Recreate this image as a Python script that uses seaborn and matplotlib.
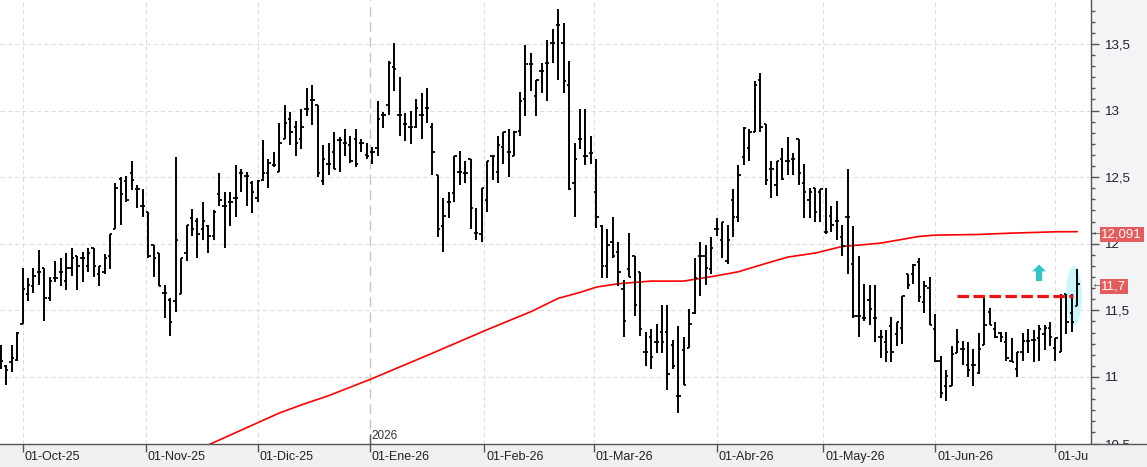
import numpy as np
import pandas as pd
import matplotlib
matplotlib.use('Agg')
import matplotlib.pyplot as plt
from matplotlib.patches import Ellipse
from matplotlib.ticker import MultipleLocator, FuncFormatter
from matplotlib.transforms import Bbox, TransformedBbox, blended_transform_factory
import seaborn as sns

# barras diarias (25-sep-2025 .. 07-jul-2026)
highs = [11.24, 11.09, 11.24, 11.34, 11.82, 11.74, 11.82, 11.95, 11.82, 11.75,
         11.87, 11.89, 11.93, 11.97, 11.91, 11.94, 11.97, 11.97, 11.83, 11.92,
         12.07, 12.46, 12.50, 12.51, 12.62, 12.44, 12.41, 12.24, 11.99, 11.93,
         11.69, 11.59, 12.65, 11.89, 12.14, 12.26, 12.19, 12.31, 12.14, 12.25,
         12.53, 12.39, 12.39, 12.59, 12.56, 12.54, 12.47, 12.48, 12.78, 12.64,
         12.69, 12.91, 13.04, 12.99, 12.92, 13.01, 13.17, 13.19, 13.04, 12.74,
         12.76, 12.84, 12.80, 12.86, 12.81, 12.86, 12.79, 12.76, 12.73, 13.07,
         12.99, 13.37, 13.51, 13.25, 12.98, 13.00, 13.09, 13.13, 13.17, 12.91,
         12.52, 12.34, 12.39, 12.66, 12.70, 12.62, 12.64, 12.27, 12.42, 12.62,
         12.66, 12.81, 12.84, 12.86, 12.85, 13.14, 13.49, 13.43, 13.23, 13.36,
         13.53, 13.61, 13.76, 13.66, 13.37, 12.76, 13.01, 13.01, 12.81, 12.64,
         12.14, 12.11, 12.20, 12.01, 11.73, 12.08, 11.91, 11.79, 11.34, 11.36,
         11.40, 11.54, 11.54, 11.28, 11.38, 11.30, 11.51, 11.89, 12.01, 11.99,
         12.05, 12.19, 12.16, 12.14, 12.41, 12.59, 12.88, 12.86, 13.22, 13.28,
         12.90, 12.62, 12.62, 12.72, 12.80, 12.68, 12.79, 12.60, 12.42, 12.42,
         12.41, 12.42, 12.28, 12.32, 12.14, 12.56, 12.13, 11.91, 11.70, 11.69,
         11.69, 11.35, 11.35, 11.45, 11.41, 11.61, 11.77, 11.85, 11.89, 11.72,
         11.75, 11.47, 11.16, 11.05, 11.23, 11.36, 11.27, 11.26, 11.21, 11.33,
         11.61, 11.52, 11.41, 11.34, 11.34, 11.29, 11.19, 11.33, 11.36, 11.35,
         11.39, 11.39, 11.41, 11.29, 11.62, 11.62, 11.62, 11.81]
lows = [11.06, 10.94, 11.04, 11.12, 11.40, 11.57, 11.63, 11.69, 11.42, 11.57,
        11.71, 11.68, 11.65, 11.76, 11.65, 11.71, 11.79, 11.75, 11.68, 11.77,
        11.81, 12.11, 12.14, 12.31, 12.40, 12.27, 12.20, 11.89, 11.75, 11.68,
        11.44, 11.31, 11.49, 11.62, 11.87, 12.06, 11.89, 12.03, 11.93, 12.03,
        12.28, 11.97, 12.13, 12.20, 12.39, 12.28, 12.23, 12.31, 12.47, 12.42,
        12.58, 12.54, 12.79, 12.74, 12.66, 12.71, 12.96, 12.89, 12.50, 12.44,
        12.52, 12.56, 12.54, 12.66, 12.61, 12.58, 12.69, 12.64, 12.60, 12.66,
        12.87, 12.97, 13.15, 12.81, 12.77, 12.75, 12.87, 12.79, 12.91, 12.52,
        12.05, 11.94, 12.19, 12.31, 12.44, 12.46, 12.11, 12.03, 12.01, 12.24,
        12.48, 12.46, 12.60, 12.50, 12.66, 12.81, 12.96, 13.15, 12.96, 13.13,
        13.07, 13.36, 13.23, 13.13, 12.40, 12.20, 12.71, 12.59, 12.60, 12.12,
        11.74, 11.74, 11.89, 11.68, 11.30, 11.75, 11.46, 11.31, 11.08, 11.06,
        11.18, 11.18, 10.90, 11.06, 10.73, 10.94, 11.22, 11.47, 11.61, 11.69,
        11.77, 12.06, 11.89, 11.85, 12.05, 12.16, 12.59, 12.62, 12.84, 12.84,
        12.44, 12.34, 12.36, 12.48, 12.52, 12.52, 12.44, 12.19, 12.19, 12.16,
        12.16, 12.07, 12.09, 12.03, 11.91, 11.77, 11.44, 11.30, 11.42, 11.39,
        11.26, 11.14, 11.11, 11.11, 11.23, 11.25, 11.66, 11.70, 11.56, 11.48,
        11.39, 11.11, 10.84, 10.82, 10.93, 11.18, 11.09, 11.00, 10.93, 11.02,
        11.24, 11.39, 11.29, 11.26, 11.12, 11.11, 11.00, 11.12, 11.18, 11.11,
        11.12, 11.20, 11.23, 11.12, 11.19, 11.32, 11.34, 11.53]
opens = [11.21, 11.08, 11.11, 11.13, 11.40, 11.62, 11.68, 11.79, 11.82, 11.59,
         11.74, 11.79, 11.72, 11.82, 11.91, 11.89, 11.83, 11.97, 11.77, 11.79,
         11.91, 12.11, 12.49, 12.47, 12.53, 12.41, 12.28, 12.24, 11.99, 11.93,
         11.63, 11.58, 11.57, 11.62, 11.93, 12.19, 12.17, 12.11, 12.13, 12.06,
         12.37, 12.28, 12.31, 12.34, 12.53, 12.51, 12.46, 12.34, 12.48, 12.53,
         12.59, 12.54, 12.79, 12.94, 12.88, 12.79, 13.01, 13.08, 13.04, 12.47,
         12.60, 12.69, 12.78, 12.76, 12.74, 12.79, 12.76, 12.67, 12.69, 12.72,
         12.97, 13.04, 13.33, 12.97, 12.90, 12.88, 12.88, 12.97, 13.02, 12.88,
         12.52, 12.13, 12.31, 12.38, 12.54, 12.53, 12.64, 12.08, 12.07, 12.33,
         12.66, 12.54, 12.73, 12.69, 12.66, 12.85, 13.09, 13.35, 13.11, 13.30,
         13.36, 13.51, 13.64, 13.51, 13.19, 12.46, 12.79, 12.66, 12.68, 12.39,
         12.13, 11.83, 12.01, 11.94, 11.66, 11.81, 11.91, 11.79, 11.19, 11.30,
         11.26, 11.34, 11.34, 11.24, 10.86, 11.20, 11.22, 11.48, 11.91, 11.91,
         11.81, 12.11, 12.03, 11.87, 12.33, 12.20, 12.65, 12.72, 12.84, 13.23,
         12.90, 12.56, 12.44, 12.64, 12.62, 12.64, 12.79, 12.46, 12.33, 12.42,
         12.39, 12.09, 12.21, 12.17, 12.05, 12.20, 11.85, 11.46, 11.44, 11.58,
         11.44, 11.30, 11.26, 11.38, 11.32, 11.37, 11.77, 11.77, 11.86, 11.56,
         11.67, 11.36, 11.12, 10.93, 10.93, 11.18, 11.21, 11.09, 11.09, 11.03,
         11.24, 11.49, 11.36, 11.33, 11.26, 11.12, 11.06, 11.19, 11.27, 11.28,
         11.29, 11.32, 11.37, 11.22, 11.19, 11.62, 11.48, 11.53]
closes = [11.12, 11.05, 11.14, 11.33, 11.66, 11.69, 11.76, 11.79, 11.59, 11.72,
          11.74, 11.79, 11.82, 11.89, 11.83, 11.89, 11.93, 11.83, 11.83, 11.89,
          12.07, 12.42, 12.37, 12.33, 12.48, 12.41, 12.28, 11.91, 11.89, 11.68,
          11.63, 11.41, 12.03, 11.89, 12.14, 12.11, 12.07, 12.17, 12.06, 12.24,
          12.33, 12.28, 12.31, 12.34, 12.53, 12.51, 12.39, 12.47, 12.53, 12.61,
          12.59, 12.76, 12.91, 12.84, 12.76, 12.88, 13.01, 13.08, 12.53, 12.64,
          12.60, 12.56, 12.78, 12.76, 12.62, 12.60, 12.76, 12.66, 12.69, 12.94,
          12.97, 13.36, 13.31, 12.97, 12.90, 12.88, 13.02, 12.97, 13.02, 12.69,
          12.11, 12.21, 12.31, 12.66, 12.54, 12.53, 12.27, 12.08, 12.42, 12.62,
          12.66, 12.74, 12.84, 12.69, 12.84, 13.07, 13.35, 13.35, 13.23, 13.30,
          13.36, 13.51, 13.64, 13.22, 12.41, 12.64, 12.79, 12.66, 12.68, 12.20,
          11.83, 11.99, 11.91, 11.79, 11.42, 11.75, 11.54, 11.36, 11.19, 11.15,
          11.26, 11.26, 11.02, 11.08, 10.86, 10.94, 11.40, 11.74, 11.91, 11.82,
          11.97, 12.11, 12.16, 12.03, 12.20, 12.52, 12.87, 12.84, 13.19, 12.88,
          12.48, 12.56, 12.62, 12.49, 12.62, 12.64, 12.53, 12.39, 12.39, 12.24,
          12.41, 12.09, 12.14, 12.17, 11.98, 12.20, 11.46, 11.46, 11.44, 11.51,
          11.44, 11.30, 11.19, 11.19, 11.41, 11.61, 11.69, 11.84, 11.60, 11.68,
          11.39, 11.12, 10.88, 11.01, 11.17, 11.26, 11.21, 11.05, 11.09, 11.21,
          11.39, 11.39, 11.30, 11.30, 11.14, 11.11, 11.19, 11.27, 11.27, 11.28,
          11.36, 11.37, 11.30, 11.29, 11.61, 11.41, 11.41, 11.70]

# media móvil (roja), puntos leídos: posición de barra y valor
sma_pos = [38, 51, 55, 60, 67.5, 78.5, 89, 97, 102, 106, 109, 113, 119, 125,
           131, 135, 139, 144, 149, 154, 157, 161, 168, 171, 179, 185, 193, 197]
sma_val = [10.49, 10.73, 10.79, 10.86, 10.98, 11.17, 11.355, 11.49, 11.59,
           11.635, 11.675, 11.70, 11.72, 11.72, 11.76, 11.79, 11.84, 11.90,
           11.93, 11.98, 11.99, 12.005, 12.055, 12.065, 12.07, 12.08, 12.09,
           12.091]

resistencia = 11.61
resist_desde, resist_hasta = 174.9, 196.3
ultimo_sma = '12,091'
ultimo_cierre = '11,7'

festivos = ['2025-12-25', '2025-12-26', '2026-01-01', '2026-04-03', '2026-04-06', '2026-05-01']
meses_es = ['Ene', 'Feb', 'Mar', 'Abr', 'May', 'Jun', 'Jul', 'Ago', 'Sep', 'Oct', 'Nov', 'Dic']

fechas = pd.bdate_range('2025-09-25', '2026-07-07')
fechas = fechas[~fechas.isin(pd.to_datetime(festivos))]
idx = np.arange(len(fechas))

# primer día de cada mes -> marca del eje x
df = pd.DataFrame({'i': idx, 'y': fechas.year, 'm': fechas.month, 'd': fechas.day})
primeros = df.groupby(['y', 'm']).first().reset_index().iloc[1:]
mes_pos, mes_lab = [], []
for _, r in primeros.iterrows():
    p = r['i'] - (0.5 if r['d'] != 1 else 0)
    mes_pos.append(p)
    mes_lab.append(f"01-{meses_es[r['m'] - 1]}-{r['y'] % 100:02d}")
pos_anio = [p for p, (_, r) in zip(mes_pos, primeros.iterrows()) if r['m'] == 1][0]

sns.set_style('white')
plt.rcParams['font.family'] = ['Liberation Sans', 'DejaVu Sans']

W, H = 1147, 467
fig = plt.figure(figsize=(W / 100, H / 100), dpi=100, facecolor='#f3f4f6')
ax = fig.add_axes([0, 23 / H, 1091 / W, 444 / H])
strip = fig.add_axes([0, 0, 1, 23 / H])

paso = 5.465
x0 = -0.7 / paso
ax.set_xlim(x0, x0 + 1091 / paso)
ax.set_ylim(10.497, 13.83)
ax.set_facecolor('white')

# rejilla
grid_ls = (0, (4, 3))
ax.yaxis.set_major_locator(MultipleLocator(0.5))
ax.yaxis.set_minor_locator(MultipleLocator(1 / 12))
ax.yaxis.grid(True, which='major', color='#dcdcdc', linestyle=grid_ls, lw=0.75)
ax.set_axisbelow(True)
for p in mes_pos:
    if p == pos_anio:
        ax.axvline(p, color='#c4c4c4', linestyle=(0, (7, 4)), lw=1.0, zorder=0)
    else:
        ax.axvline(p, color='#dcdcdc', linestyle=grid_ls, lw=0.75, zorder=0)

# zona resaltada
ax.add_patch(Ellipse((196.4, 11.61), width=2.9, height=0.45, fc='#c9f6fa', ec='none', zorder=2))

# media móvil
sns.lineplot(x=sma_pos, y=sma_val, ax=ax, color='#ff0000', lw=1.2, zorder=3,
             estimator=None, sort=False)

# barras OHLC
o = np.array(opens); c = np.array(closes)
ax.vlines(idx, lows, highs, color='black', lw=1.4, zorder=4)
ax.hlines(o, idx - 0.42, idx, color='black', lw=1.3, zorder=4)
ax.hlines(c, idx, idx + 0.42, color='black', lw=1.3, zorder=4)

# resistencia y flecha
ax.hlines(resistencia, resist_desde, resist_hasta, colors='#ee1111', lw=2.3,
          linestyles=[(0, (3.6, 1.4))], zorder=5)
ax.annotate('', xy=(190, 11.845), xytext=(190, 11.72),
            arrowprops=dict(arrowstyle='simple,head_length=0.5,head_width=1.0,tail_width=0.45',
                            fc='#33c6c6', ec='none', shrinkA=0, shrinkB=0, mutation_scale=10),
            zorder=6)

# eje y a la derecha
ax.yaxis.tick_right()
ax.yaxis.set_major_formatter(FuncFormatter(lambda v, _: f"{v:g}".replace('.', ',')))
ax.tick_params(axis='y', which='major', length=6, width=1, color='#555555',
               labelsize=9.5, labelcolor='#1e1e2e', pad=4)
ax.tick_params(axis='y', which='minor', length=3, width=1, color='#555555')
ax.tick_params(axis='x', bottom=False, labelbottom=False)
for s in ['top', 'left', 'bottom']:
    ax.spines[s].set_visible(False)
ax.spines['right'].set_color('#555555')
ax.spines['right'].set_linewidth(1)

# etiquetas de último valor
tr = blended_transform_factory(ax.transAxes, ax.transData)
for val, txt in [(12.091, ultimo_sma), (11.70, ultimo_cierre)]:
    ax.annotate(txt, xy=(1.0095, val), xycoords=tr, xytext=(0, -2),
                textcoords='offset points', ha='left', va='center', color='white',
                fontsize=9.5, annotation_clip=False, zorder=10,
                bbox=dict(boxstyle='square,pad=0.12', fc='#e45c5c', ec='none'))
    ax.text(1.0005, val, '←', transform=tr, ha='left', va='center', color='#444444',
            fontsize=8, clip_on=False, zorder=10)

# marca de año
ax.vlines(pos_anio, 10.497, 10.497 + 10 / 133.3, color='#555555', lw=1, zorder=6)
ax.text(pos_anio + 0.35, 10.56, str(fechas[int(np.ceil(pos_anio))].year), ha='left',
        va='center', fontsize=8.5, color='#333333', zorder=6)

# franja del eje x
strip.set_facecolor('#f0f0f0')
strip.set_xlim(x0, x0 + W / paso)
strip.set_ylim(0, 1)
strip.set_xticks([]); strip.set_yticks([])
for s in ['left', 'right', 'bottom']:
    strip.spines[s].set_visible(False)
strip.spines['top'].set_color('#555555')
strip.spines['top'].set_linewidth(1)
clip = TransformedBbox(Bbox([[0, 0], [1089 / W, 1]]), fig.transFigure)
strip.vlines(mes_pos, 0.64, 1, color='#555555', lw=1)
for p, lab in zip(mes_pos, mes_lab):
    t = strip.text(p + 0.35, 0.45, lab, ha='left', va='center', fontsize=9,
                   color='#222222')
    t.set_clip_box(clip)
    t.set_clip_on(True)

fig.savefig('out.png', dpi=100, facecolor=fig.get_facecolor())
